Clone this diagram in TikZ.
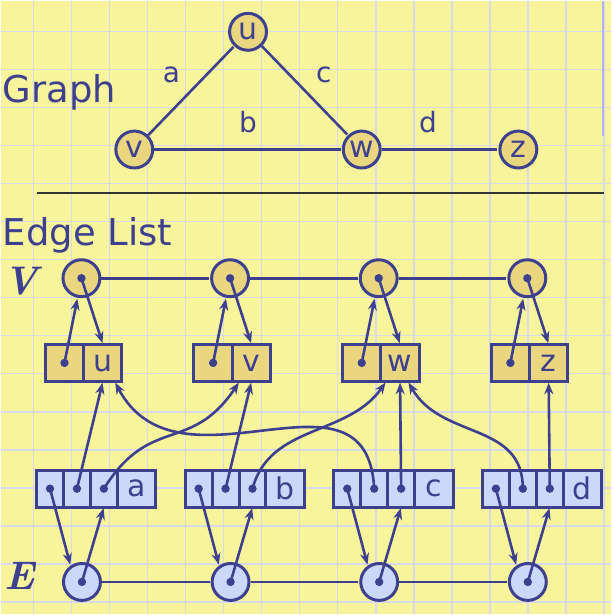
\documentclass[tikz,border=0pt]{standalone}
\usepackage{fontspec}
\newfontfamily\dejavu{DejaVu Sans}
\usepackage{tikz}
\usetikzlibrary{arrows.meta}
\usetikzlibrary{positioning}

\definecolor{ink}{HTML}{3D3F8F}
\definecolor{vfill}{HTML}{EAD67F}
\definecolor{efill}{HTML}{CCD8FA}
\definecolor{paper}{HTML}{F7F49B}
\definecolor{gridline}{HTML}{D6DAEC}

\begin{document}
\begin{tikzpicture}[x=1pt,y=1pt,->,>={Stealth[length=11.5pt,width=9pt]},shorten >=1pt,auto,
	line width=2.6pt,color=ink,
	title/.style={font=\dejavu\fontsize{37}{37}\selectfont,inner sep=0pt,anchor=base west},
	setname/.style={font=\bfseries\itshape\fontsize{40}{40}\selectfont},
	lbl/.style={font=\dejavu\fontsize{28}{28}\selectfont,inner sep=2pt},
	ptr/.style={path picture={\fill[ink] (path picture bounding box.center) circle (4.2pt);}},
	gvert/.style={circle,draw,line width=3pt,fill=vfill,minimum size=37pt,inner sep=0pt,font=\dejavu\fontsize{30}{30}\selectfont},
	vpos/.style={circle,draw,line width=3pt,fill=vfill,minimum size=37pt,inner sep=0pt,ptr},
	epos/.style={circle,draw,line width=3pt,fill=efill,minimum size=37pt,inner sep=0pt,ptr},
	vcell/.style={rectangle,draw,line width=3pt,fill=vfill,minimum width=38.4pt,minimum height=37.8pt,inner sep=0pt,outer sep=0pt,font=\dejavu\fontsize{30}{30}\selectfont},
	ecell/.style={rectangle,draw,line width=3pt,fill=efill,minimum width=27pt,minimum height=37pt,inner sep=0pt,outer sep=0pt,ptr},
	ename/.style={rectangle,draw,line width=3pt,fill=efill,minimum width=38.5pt,minimum height=37pt,inner sep=0pt,outer sep=0pt,font=\dejavu\fontsize{30}{30}\selectfont}]

	% paper
	\fill[paper] (0,0) rectangle (612,-615);
	\begin{scope}[-,shorten >=0pt,gridline,line width=1.3pt]
		\foreach \k in {0,...,15} {
			\draw ({33+38.13*\k},0) -- ({33+38.13*\k},-615);
			\draw (0,{-30.7-38.13*\k}) -- (612,{-30.7-38.13*\k});
		}
	\end{scope}
	\draw[-,shorten >=0pt,color=black!80,line width=1.5pt] (36,-192.5) -- (605,-192.5);
	\draw[-,shorten >=0pt,color=blue!30,line width=1.8pt] (604,0) -- (604,-135);

	\node[title] (graph) at (1,-102) {Graph};
	\node[title] (edgelist) at (1,-245) {Edge List};
	\node[setname] (Vname) at (20,-281) {V};
	\node[setname] (Ename) at (18.5,-576) {E};

	% graph
	\node[gvert] (u) at (248,-31) {u};
	\node[gvert] (v) at (134,-149) {v};
	\node[gvert] (w) [right=188pt of v] {w};
	\node[gvert] (z) [right=117pt of w] {z};

	\path[-]
		(v) edge node[lbl,above left=4pt and 8pt] {a} (u)
		(u) edge node[lbl,above right=4pt and 8pt] {c} (w)
		(v) edge node[lbl,above=13pt] {b} (w)
		(w) edge node[lbl,above=13pt,xshift=-12pt] {d} (z);

	% vertex list
	\node[vpos] (Vu) at (81,-278) {};
	\node[vpos] (Vv) [right=109pt of Vu] {};
	\node[vpos] (Vw) [right=109pt of Vv] {};
	\node[vpos] (Vz) [right=109pt of Vw] {};

	\node[vcell,ptr] (uL) [below=46pt of Vu,xshift=-17pt] {};
	\node[vcell] (uR) [right=0pt of uL] {u};
	\node[vcell,ptr] (vL) [below=46pt of Vv,xshift=-17pt] {};
	\node[vcell] (vR) [right=0pt of vL] {v};
	\node[vcell,ptr] (wL) [below=46pt of Vw,xshift=-17pt] {};
	\node[vcell] (wR) [right=0pt of wL] {w};
	\node[vcell,ptr] (zL) [below=46pt of Vz,xshift=-17pt] {};
	\node[vcell] (zR) [right=0pt of zL] {z};

	% edge list
	\node[epos] (Ea) at (81.5,-582.5) {};
	\node[epos] (Eb) [right=109pt of Ea] {};
	\node[epos] (Ec) [right=109pt of Eb] {};
	\node[epos] (Ed) [right=109pt of Ec] {};

	\node[ecell] (a1) [above=55pt of Ea,xshift=-32pt] {};
	\node[ecell] (a2) [right=0pt of a1] {};
	\node[ecell] (a3) [right=0pt of a2] {};
	\node[ename] (a4) [right=0pt of a3] {a};
	\node[ecell] (b1) [above=55pt of Eb,xshift=-32pt] {};
	\node[ecell] (b2) [right=0pt of b1] {};
	\node[ecell] (b3) [right=0pt of b2] {};
	\node[ename] (b4) [right=0pt of b3] {b};
	\node[ecell] (c1) [above=55pt of Ec,xshift=-32pt] {};
	\node[ecell] (c2) [right=0pt of c1] {};
	\node[ecell] (c3) [right=0pt of c2] {};
	\node[ename] (c4) [right=0pt of c3] {c};
	\node[ecell] (d1) [above=55pt of Ed,xshift=-32pt] {};
	\node[ecell] (d2) [right=0pt of d1] {};
	\node[ecell] (d3) [right=0pt of d2] {};
	\node[ename] (d4) [right=0pt of d3] {d};

	\path[-]
		(Vu) edge (Vv)
		(Vv) edge (Vw)
		(Vw) edge (Vz)
		(Ea) edge (Eb)
		(Eb) edge (Ec)
		(Ec) edge (Ed);

	\path
		(uL.center) edge (Vu)
		(Vu.center) edge (uR.north)
		(vL.center) edge (Vv)
		(Vv.center) edge (vR.north)
		(wL.center) edge (Vw)
		(Vw.center) edge (wR.north)
		(zL.center) edge (Vz)
		(Vz.center) edge (zR.north)
		(a1.center) edge (Ea.125)
		(Ea.center) edge (a3.south)
		(b1.center) edge (Eb.125)
		(Eb.center) edge (b3.south)
		(c1.center) edge (Ec.125)
		(Ec.center) edge (c3.south)
		(d1.center) edge (Ed.125)
		(Ed.center) edge (d3.south)
		(a2.center) edge (uR.south)
		(a3.center) edge [out=58,in=236,looseness=1.3] ([xshift=-12pt]vR.south)
		(b2.center) edge (vR.south)
		(b3.center) edge [out=75,in=235] ([xshift=-14pt]wR.south)
		(c2.center) edge [out=93,in=-62,looseness=1.25] ([xshift=12pt]uR.south)
		(c3.center) edge (wR.south)
		(d2.center) edge [out=90,in=-60,looseness=1.1] ([xshift=8pt]wR.south)
		(d3.center) edge (zR.south);

	\useasboundingbox (0,0) rectangle (612,-615);
\end{tikzpicture}
\end{document}
